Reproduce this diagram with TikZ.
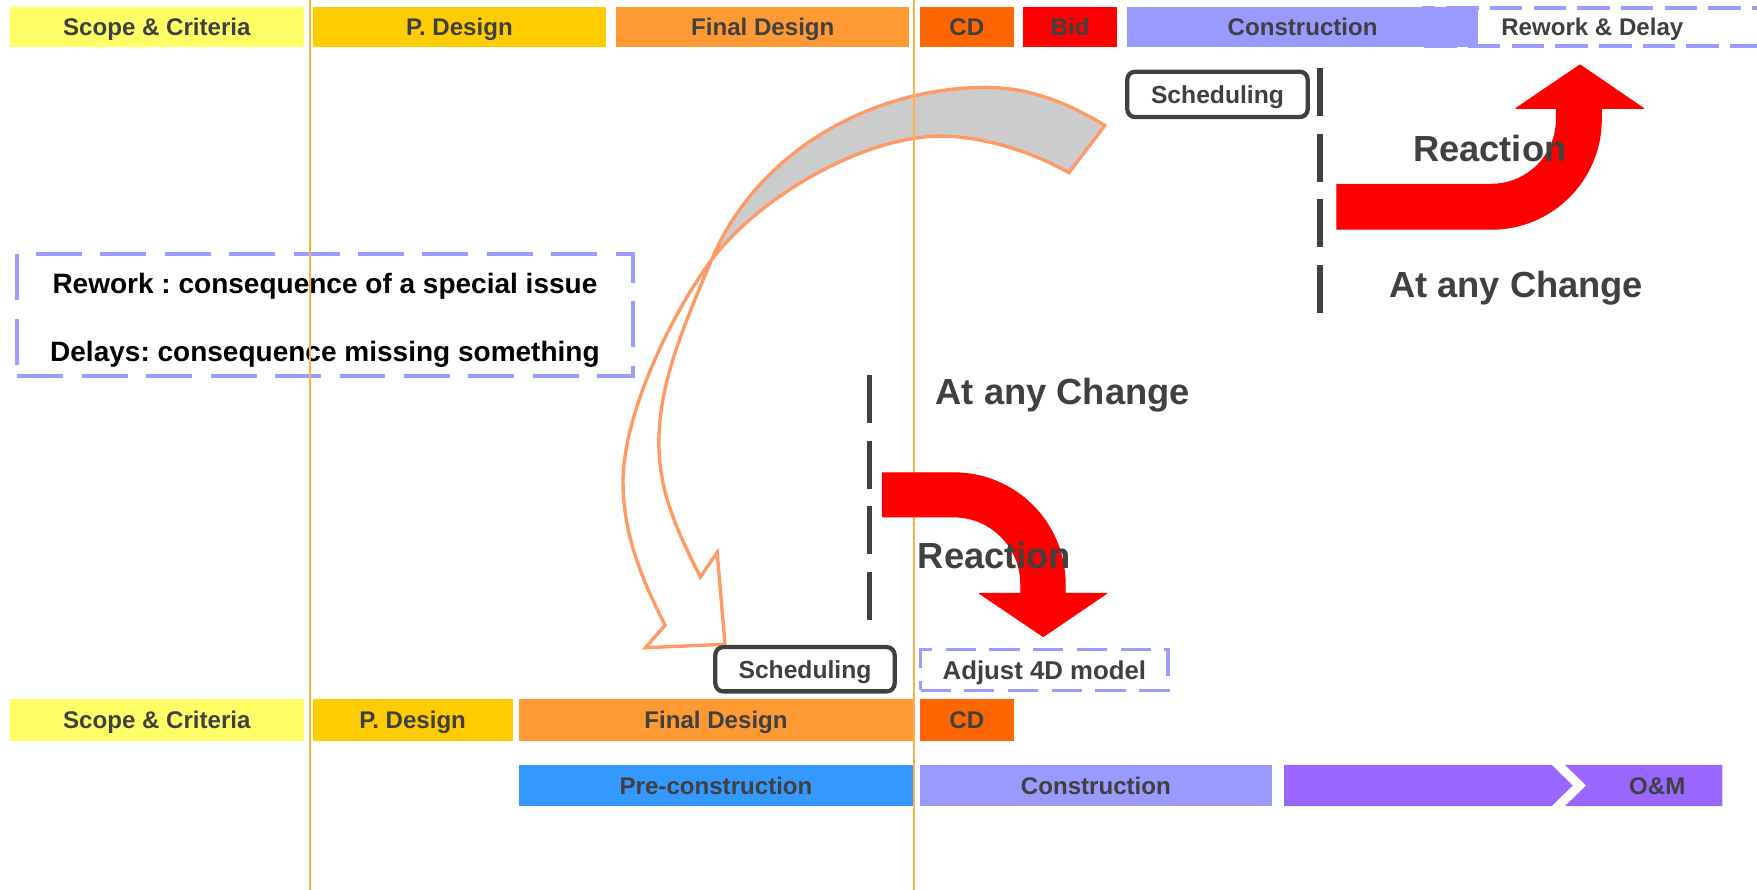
\documentclass[tikz,border=0pt]{standalone}
\usepackage{fontspec}
\setmainfont{Liberation Sans}
\frenchspacing
\definecolor{txt}{HTML}{404040}
\definecolor{cScope}{HTML}{FFFF66}
\definecolor{cPD}{HTML}{FFCC00}
\definecolor{cFD}{HTML}{FF9933}
\definecolor{cCD}{HTML}{FF6600}
\definecolor{cBid}{HTML}{FF0000}
\definecolor{cCon}{HTML}{9999FF}
\definecolor{cPre}{HTML}{3399FF}
\definecolor{cPur}{HTML}{9966FF}
\definecolor{dashc}{HTML}{9C9CFF}
\definecolor{salmon}{HTML}{FF9966}
\definecolor{cGray}{HTML}{CCCCCC}
\definecolor{vline}{HTML}{FFB347}
\definecolor{cRed}{HTML}{FF0000}
\begin{document}
\begin{tikzpicture}[x=1pt,y=-1pt,
  bar/.style={inner sep=0pt, outer sep=0pt, minimum height=36pt, text=txt,
    font=\frenchspacing\bfseries\fontsize{21.5}{24}\selectfont, text height=15.4pt, text depth=0pt},
  schedbox/.style={draw=txt, line width=3.8pt, rounded corners=7pt, fill=white,
    inner sep=0pt, text=txt, font=\bfseries\fontsize{22}{24}\selectfont,
    text height=15.8pt, text depth=0pt},
  dbox/.style={draw=dashc, line width=3pt, dash pattern=on 27pt off 12pt,
    inner sep=0pt, text=txt, font=\frenchspacing\bfseries\fontsize{23}{26}\selectfont,
    text height=16.5pt, text depth=0pt},
  notetext/.style={inner sep=0pt, text=black, font=\frenchspacing\bfseries\fontsize{25}{28}\selectfont,
    text height=17.9pt, text depth=0pt},
  biglabel/.style={inner sep=0pt, anchor=base, text=txt, font=\frenchspacing\bfseries\fontsize{32.4}{36}\selectfont},
  vdash/.style={draw=txt, line width=5pt, dash pattern=on 42.5pt off 16pt},
  phase/.style={draw=vline, line width=1.5pt},
  outline/.style={draw=salmon, line width=3pt},
  redarrow/.style={fill=cRed, draw=cRed, line width=1pt, line join=round}
]
\useasboundingbox (0,0) rectangle (1568,794);

% ---------- top bar ----------
\node[bar, fill=cScope, minimum width=262pt] (t1) at (140,24) {Scope \& Criteria};
\node[bar, fill=cPD, minimum width=262pt] (t2) at (410,24) {P. Design};
\node[bar, fill=cFD, minimum width=261.5pt] (t3) at (680.75,24) {Final Design};
\node[bar, fill=cCD, minimum width=83.5pt] (t4) at (862.75,24) {CD};
\node[bar, fill=cBid, minimum width=84pt] (t5) at (955,24) {Bid};
\node[bar, fill=cCon, minimum width=313pt] (t6) at (1162.5,24) {Construction};
\node[bar, draw=dashc, line width=3.5pt, dash pattern=on 29pt off 10pt,
      minimum width=300pt, minimum height=33.6pt] (t7) at (1421,24) {Rework \& Delay};

% ---------- bottom bars ----------
\node[bar, fill=cScope, minimum width=262pt, minimum height=37.5pt] (b1) at (140,642.5) {Scope \& Criteria};
\node[bar, fill=cPD, minimum width=178.5pt, minimum height=37.5pt] (b2) at (368.25,642.5) {P. Design};
\node[bar, fill=cFD, minimum width=352pt, minimum height=37.5pt] (b3) at (639,642.5) {Final Design};
\node[bar, fill=cCD, minimum width=83.5pt, minimum height=37.5pt] (b4) at (862.75,642.5) {CD};

\node[bar, fill=cPre, minimum width=352pt, minimum height=36.6pt] (c1) at (639,701) {Pre-construction};
\node[bar, fill=cCon, minimum width=314pt, minimum height=36.6pt] (c2) at (978,701) {Construction};
\fill[cPur] (1146,682.7) -- (1384.8,682.7) -- (1403.5,701) -- (1384.8,719.3) -- (1146,719.3) -- cycle;
\fill[cPur] (1396.7,682.7) -- (1537,682.7) -- (1537,719.3) -- (1396.7,719.3) -- (1415.5,701) -- cycle;
\node[bar] (c3) at (1479,701) {O\&M};

% ---------- note box ----------
\node[draw=dashc, line width=3.6pt, dash pattern=on 41pt off 16.5pt, inner sep=0pt,
      minimum width=549.5pt, minimum height=108.5pt] (note) at (290.25,281.25) {};
\node[notetext] (n1) at (290,253) {Rework : consequence of a special issue};
\node[notetext] (n2) at (290,313.5) {Delays: consequence missing something};

% ---------- curved hollow arrow ----------
\coordinate (T1) at (986,112);
\coordinate (T2) at (954,154);
\coordinate (X) at (635,232);
\coordinate (P1) at (880,78);
\coordinate (P2) at (840,121.5);
\coordinate (L1) at (588,395);
\coordinate (L2) at (556,430);
\coordinate (A1) at (593.5,558);
\coordinate (A2) at (576,578);
\coordinate (A3) at (647,575);
\coordinate (A4) at (640,493);
\coordinate (A5) at (625,515);
\fill[cGray] (T1) .. controls (955,93) and (920,78) .. (P1)
  .. controls (776.7,78) and (674.7,136.6) .. (X)
  .. controls (677,176) and (770,121.5) .. (P2)
  .. controls (875,121.5) and (918,134) .. (T2) -- cycle;
\draw[outline] (T1) .. controls (955,93) and (920,78) .. (P1)
  .. controls (776.7,78) and (674.7,136.6) .. (X)
  .. controls (612,287) and (588,340) .. (L1)
  .. controls (588,440) and (605,475) .. (A5)
  -- (A4) -- (A3) -- (A2) -- (A1)
  .. controls (575.6,522.2) and (556,480) .. (L2)
  .. controls (556,370) and (599,280) .. (X)
  .. controls (677,176) and (770,121.5) .. (P2)
  .. controls (875,121.5) and (918,134) .. (T2) -- cycle;

% ---------- scheduling boxes ----------
\node[schedbox, minimum width=161pt, minimum height=40.5pt] (s1) at (1086.5,84.25) {Scheduling};
\node[schedbox, minimum width=160pt, minimum height=39.5pt] (s2) at (718.4,597.25) {Scheduling};
\node[dbox, minimum width=221pt, minimum height=36.5pt] (adj) at (932,597.75) {Adjust 4D model};

% ---------- dashed dark lines ----------
\coordinate (d1a) at (1178,61);
\coordinate (d1b) at (1178,279.5);
\coordinate (d2a) at (776,335);
\coordinate (d2b) at (776,553);
\draw[vdash] (d1a) -- (d1b);
\draw[vdash] (d2a) -- (d2b);

% ---------- phase lines ----------
\coordinate (p1a) at (276.5,0);
\coordinate (p1b) at (276.5,794);
\coordinate (p2a) at (815.8,0);
\coordinate (p2b) at (815.8,794);
\draw[phase] (p1a) -- (p1b);
\draw[phase] (p2a) -- (p2b);

% ---------- red arrows ----------
\filldraw[redarrow] (1193,164.5) -- (1331,164.5)
  .. controls (1363,164.5) and (1389,138.5) .. (1389,106.5)
  -- (1389,96.7) -- (1353,96.7) -- (1410,58) -- (1466.6,96.7) -- (1429,96.7) -- (1429,106.5)
  .. controls (1429,160.6) and (1385.1,204.5) .. (1331,204.5)
  -- (1193,204.5) -- cycle;
\filldraw[redarrow] (787.5,422) -- (851,422)
  .. controls (906,422) and (950.5,466.2) .. (950.5,521.2)
  -- (950.5,529.5) -- (987.7,529.5) -- (931,568) -- (874,529.5) -- (911,529.5) -- (911,521.2)
  .. controls (911,488.1) and (884.1,461.2) .. (851,461.2)
  -- (787.5,461.2) -- cycle;

% ---------- labels ----------
\node[biglabel] (r1) at (1329.5,143.7) {Reaction};
\node[biglabel] (a1) at (1353,265.3) {At any Change};
\node[biglabel] (a2) at (948.5,361.4) {At any Change};
\node[biglabel] (r2) at (887.5,507) {Reaction};
\end{tikzpicture}
\end{document}
